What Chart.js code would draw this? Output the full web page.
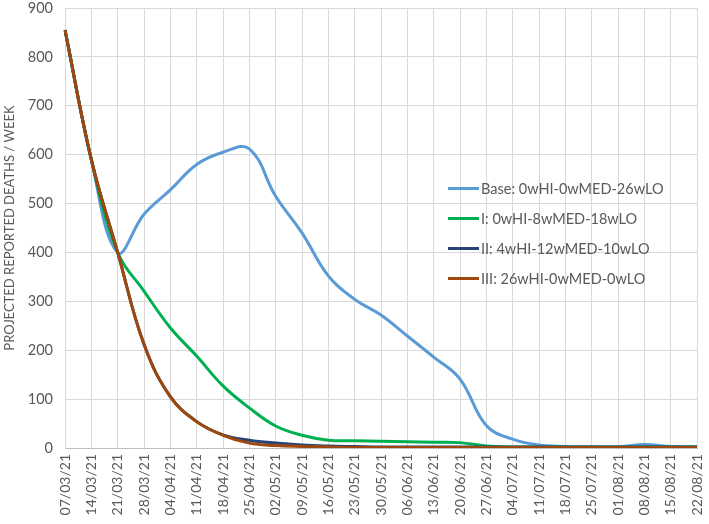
<!DOCTYPE html>
<html>
<head>
<meta charset="utf-8">
<script src="https://cdn.jsdelivr.net/npm/chart.js@4/dist/chart.umd.min.js"></script>
<style>
  html, body { margin: 0; padding: 0; background: #fff; }
  #wrap { position: relative; width: 709px; height: 524px; }
  #legend { position: absolute; left: 448px; top: 173px; font: 14.5px Lato, sans-serif; color: #595959; }
  #legend .item { display: flex; align-items: center; height: 30px; }
  #legend .swatch { width: 31px; height: 3px; margin-right: 2px; }
</style>
</head>
<body>
<div id="wrap">
  <canvas id="chart" width="709" height="524"></canvas>
  <div id="legend"></div>
</div>
<script>
// weekly dates
const weeks = [
  "07/03/21", "14/03/21", "21/03/21", "28/03/21", "04/04/21", "11/04/21", "18/04/21",
  "25/04/21", "02/05/21", "09/05/21", "16/05/21", "23/05/21", "30/05/21", "06/06/21",
  "13/06/21", "20/06/21", "27/06/21", "04/07/21", "11/07/21", "18/07/21", "25/07/21",
  "01/08/21", "08/08/21", "15/08/21", "22/08/21"
];

const seriesNames = [
  "Base: 0wHI-0wMED-26wLO",
  "I: 0wHI-8wMED-18wLO",
  "II: 4wHI-12wMED-10wLO",
  "III: 26wHI-0wMED-0wLO"
];

// projected deaths per week
const baseDeaths = [855, 590, 400, 478, 528, 580, 605, 612, 515, 440, 352, 304, 272, 229, 186, 141, 46, 18, 6, 3, 2, 2, 7, 3, 2];
const scen1Deaths = [855, 590, 400, 321, 246, 188, 127, 82, 45, 26, 16, 15, 14, 13, 12, 11, 4, 2, 2, 2, 2, 2, 2, 2, 2];
const scen2Deaths = [855, 590, 400, 212, 105, 54, 27, 16, 10, 6, 4, 3, 2, 2, 2, 2, 2, 2, 2, 2, 2, 2, 2, 2, 2];
const scen3Deaths = [855, 590, 400, 212, 105, 54, 26, 10, 5, 3, 2, 1, 1, 1, 1, 1, 1, 1, 1, 1, 1, 1, 1, 1, 1];

const colors = ["#5B9BD5", "#00B050", "#264478", "#9E480E"];
const allSeries = [baseDeaths, scen1Deaths, scen2Deaths, scen3Deaths];

const datasets = allSeries.map((d, i) => ({
  label: seriesNames[i],
  data: d,
  borderColor: colors[i],
  backgroundColor: colors[i],
  borderWidth: 3,
  pointRadius: 0,
  tension: 0.4,
  fill: false,
  order: 4 - i
}));

const textColor = "#595959";
const font = "Lato, sans-serif";

new Chart(document.getElementById("chart"), {
  type: "line",
  data: { labels: weeks, datasets },
  options: {
    responsive: false,
    animation: false,
    layout: { padding: { top: 8, right: 12, left: 0, bottom: 0 } },
    plugins: {
      legend: { display: false },
      tooltip: { enabled: false }
    },
    scales: {
      x: {
        offset: false,
        grid: { color: "#d9d9d9", lineWidth: 1, drawTicks: false },
        border: { color: "#bfbfbf" },
        ticks: {
          color: textColor,
          font: { family: font, size: 14 },
          maxRotation: 90,
          minRotation: 90,
          autoSkip: false,
          padding: 6
        },
        afterFit(scale) {
          scale.height = 76;
          scale.paddingRight = 0;
          scale.paddingLeft = 0;
        }
      },
      y: {
        min: 0,
        max: 900,
        grid: { color: "#d9d9d9", lineWidth: 1, drawTicks: false },
        border: { color: "#d9d9d9" },
        ticks: {
          stepSize: 100,
          color: textColor,
          font: { family: font, size: 14.5 },
          padding: 12
        },
        title: {
          display: true,
          text: "PROJECTED REPORTED DEATHS / WEEK",
          color: textColor,
          font: { family: font, size: 13 },
          padding: { top: 2, bottom: 0 }
        },
        afterFit(scale) {
          scale.width = 65;
          scale.paddingTop = 0;
          scale.paddingBottom = 0;
        }
      }
    }
  }
});

// legend inside the plot
const legend = document.getElementById("legend");
seriesNames.forEach((name, i) => {
  const item = document.createElement("div");
  item.className = "item";
  const sw = document.createElement("span");
  sw.className = "swatch";
  sw.style.background = colors[i];
  const txt = document.createElement("span");
  txt.textContent = name;
  item.appendChild(sw);
  item.appendChild(txt);
  legend.appendChild(item);
});
</script>
</body>
</html>
